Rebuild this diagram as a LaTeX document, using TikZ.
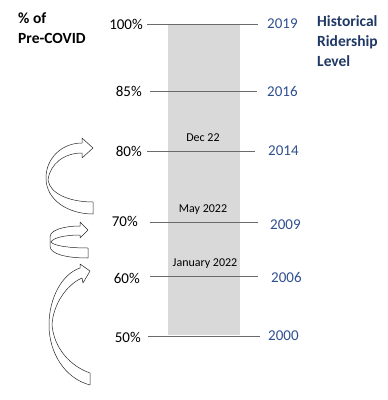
\documentclass[tikz,border=0pt]{standalone}
\usepackage{fontspec}
\setmainfont{Carlito}
\definecolor{yearblue}{HTML}{2F4F8F}
\definecolor{navy}{HTML}{1F3864}
\definecolor{barfill}{HTML}{D9D9D9}
\definecolor{linegray}{HTML}{6A6A6A}
\begin{document}
\begin{tikzpicture}[x=1pt,y=-1pt,
  pct/.style={anchor=east,inner sep=0pt,font=\fontsize{15}{18}\selectfont},
  yr/.style={anchor=west,inner sep=0pt,text=yearblue,font=\fontsize{15}{18}\selectfont},
  when/.style={inner sep=0pt,font=\fontsize{12}{14}\selectfont},
  head/.style={anchor=north west,inner sep=0pt,align=left,font=\bfseries\fontsize{15.5}{20}\selectfont},
  lvl/.style={draw=linegray,line width=0.8pt},
  curarrow/.style={draw=black!85,fill=white,line width=0.5pt,line join=round}]
\useasboundingbox (0,0) rectangle (388,400);
\fill[barfill] (168,24) rectangle (240,335);
% headers
\node[head] (hL) at (18,13) {\% of\\Pre-COVID};
\node[head,text=navy] (hR) at (317,15) {Historical\\Ridership\\Level};
% level lines
\coordinate (a1) at (147,24);  \coordinate (b1) at (258,24);
\coordinate (a2) at (150,91);  \coordinate (b2) at (257,91);
\coordinate (a3) at (147,151); \coordinate (b3) at (255,151);
\coordinate (a4) at (150,222); \coordinate (b4) at (258,222);
\coordinate (a5) at (150,276); \coordinate (b5) at (258,276);
\coordinate (a6) at (148,336); \coordinate (b6) at (260,336);
\draw[lvl] (a1) -- (b1);
\draw[lvl] (a2) -- (b2);
\draw[lvl] (a3) -- (b3);
\draw[lvl] (a4) -- (b4);
\draw[lvl] (a5) -- (b5);
\draw[lvl] (a6) -- (b6);
% percent labels
\node[pct] (p1) at (143,24) {100\%};
\node[pct] (p2) at (142,91) {85\%};
\node[pct] (p3) at (142,151) {80\%};
\node[pct] (p4) at (138,221) {70\%};
\node[pct] (p5) at (140,278) {60\%};
\node[pct] (p6) at (141,337) {50\%};
% years
\node[yr] (y1) at (267,24) {2019};
\node[yr] (y2) at (267,91) {2016};
\node[yr] (y3) at (268,151) {2014};
\node[yr] (y4) at (270,225) {2009};
\node[yr] (y5) at (271,277) {2006};
\node[yr] (y6) at (268,336) {2000};
% dates
\node[when] (d1) at (203,138) {Dec 22};
\node[when] (d2) at (203,210) {May 2022};
\node[when] (d3) at (205,264) {January 2022};
% curved arrows
\path[curarrow] (93,214) .. controls (68,214) and (46,200) .. (46,178)
  .. controls (46,158) and (62,143) .. (82,143) -- (82,138) -- (93,148) -- (82,158) -- (82,153)
  .. controls (64,153) and (50,164) .. (48,180)
  .. controls (50,194) and (70,202) .. (93,202) -- cycle;
\path[curarrow] (88,258) .. controls (66,258) and (50,254) .. (50,246) -- (50,237)
  .. controls (50,230) and (64,226) .. (80,226) -- (80,222) -- (88,230) -- (80,238) -- (80,235)
  .. controls (64,235) and (53,238) .. (51,242)
  .. controls (54,246) and (70,248) .. (88,248) -- cycle;
\path[curarrow] (90,385) .. controls (64,378) and (49,352) .. (49,325)
  .. controls (49,298) and (62,274) .. (80,268) -- (80,264) -- (90,271) -- (83,283) -- (82,278)
  .. controls (66,285) and (53,305) .. (52,325)
  .. controls (54,348) and (70,366) .. (90,373) -- cycle;
\end{tikzpicture}
\end{document}
